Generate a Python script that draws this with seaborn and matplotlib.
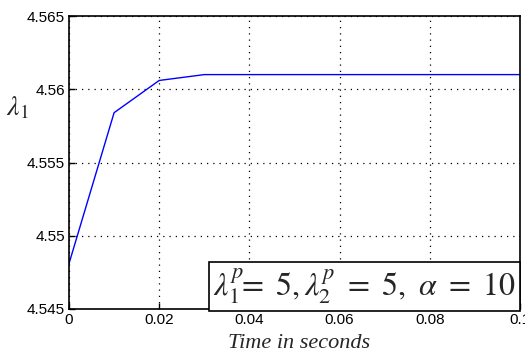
import matplotlib
matplotlib.use("Agg")
import matplotlib.pyplot as plt
import seaborn as sns
import pandas as pd

time_s = [0.0, 0.01, 0.02, 0.03, 0.04, 0.05, 0.06, 0.07, 0.08, 0.09, 0.1]
lambda1 = [4.5481, 4.5584, 4.5606, 4.5610, 4.5610, 4.5610, 4.5610, 4.5610, 4.5610, 4.5610, 4.5610]
x_ticks = [0, 0.02, 0.04, 0.06, 0.08, 0.1]
x_tick_labels = ["0", "0.02", "0.04", "0.06", "0.08", "0.1"]
y_ticks = [4.545, 4.55, 4.555, 4.56, 4.565]
y_tick_labels = ["4.545", "4.55", "4.555", "4.56", "4.565"]

sns.set_style("ticks")
plt.rcParams['font.family'] = ['Liberation Sans', 'DejaVu Sans']
plt.rcParams['mathtext.fontset'] = 'stix'

df = pd.DataFrame({"t": time_s, "l": lambda1})
fig = plt.figure(figsize=(5.25, 3.52), dpi=100)
ax = fig.add_axes([69/525, 1 - 309/352, (520 - 69)/525, (309 - 16)/352])
sns.lineplot(data=df, x="t", y="l", ax=ax, color=(0, 0, 1), linewidth=1.0)
ax.set_xlim(0, 0.1)
ax.set_ylim(4.545, 4.565)
ax.set_xticks(x_ticks)
ax.set_xticklabels(x_tick_labels)
ax.set_yticks(y_ticks)
ax.set_yticklabels(y_tick_labels)
ax.tick_params(direction="in", labelsize=11, length=4, width=1, colors="black", pad=3)
ax.grid(True, linestyle=(0, (1, 4)), color="black", linewidth=0.9)
for s in ax.spines.values():
    s.set_color("black")
    s.set_linewidth(1.2)
    s.set_visible(True)
ax.set_xlabel("Time in seconds", fontfamily="Liberation Serif", fontstyle="italic", fontsize=16)
ax.xaxis.set_label_coords(0.51, -0.085)
ax.set_ylabel(r"$\lambda_1$", fontsize=20, rotation=0)
ax.yaxis.set_label_coords(-0.115, 0.64)
ax.text(0.99, 0.077, r"$\lambda_1^p\!\!=\ 5, \lambda_2^p\ =\ 5,\ \alpha\ =\ 10$", transform=ax.transAxes,
        ha="right", va="center", fontsize=23,
        bbox=dict(boxstyle="square,pad=0.14", facecolor="white", edgecolor="black", linewidth=1.2))
fig.savefig("out.png", dpi=100)
